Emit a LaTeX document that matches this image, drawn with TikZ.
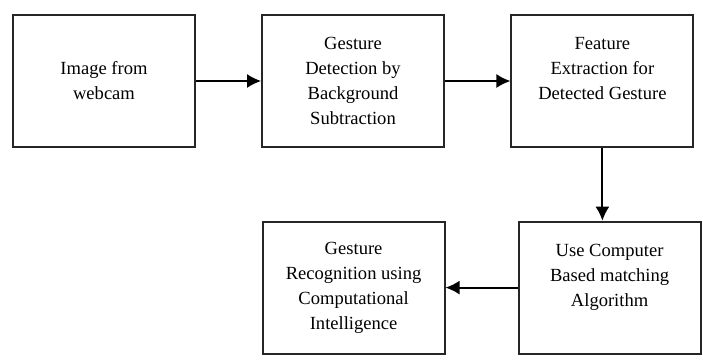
\documentclass[tikz,border=0pt]{standalone}
\usepackage{fontspec}
\setmainfont{Liberation Serif}
\usetikzlibrary{arrows.meta}
\pgfdeclarelayer{edgelayer}
\pgfdeclarelayer{nodelayer}
\pgfsetlayers{edgelayer,nodelayer,main}
\tikzstyle{stage}=[rectangle,fill=white,draw=black!85,line width=1.3pt,minimum width=4.55cm,minimum height=3.3cm,align=center,font=\fontsize{13.2}{17.8}\selectfont]
\tikzstyle{flow}=[-{Latex[length=10pt,width=10pt]},draw=black,line width=1.3pt]

\begin{document}
\begin{tikzpicture}
	\useasboundingbox (0,0) rectangle (17.575,-9.025);
	\begin{pgfonlayer}{nodelayer}
		\node [style=stage] (0) at (2.6, -2.025) {Image from\\webcam};
		\node [style=stage] (1) at (8.825, -2.025) {Gesture\\Detection by\\Background\\Subtraction};
		\node [style=stage] (2) at (15.06, -2.025) {Feature\\Extraction for\\Detected Gesture\\\mbox{}};
		\node [style=stage] (3) at (15.24, -7.19) {Use Computer\\Based matching\\Algorithm\\\mbox{}};
		\node [style=stage] (4) at (8.84, -7.19) {Gesture\\Recognition using\\Computational\\Intelligence};
	\end{pgfonlayer}
	\begin{pgfonlayer}{edgelayer}
		\draw [style=flow] (0) to (1);
		\draw [style=flow] (1) to (2);
		\draw [style=flow] (2.south) to (2.south |- 3.north);
		\draw [style=flow] (3) to (4);
	\end{pgfonlayer}
\end{tikzpicture}
\end{document}
